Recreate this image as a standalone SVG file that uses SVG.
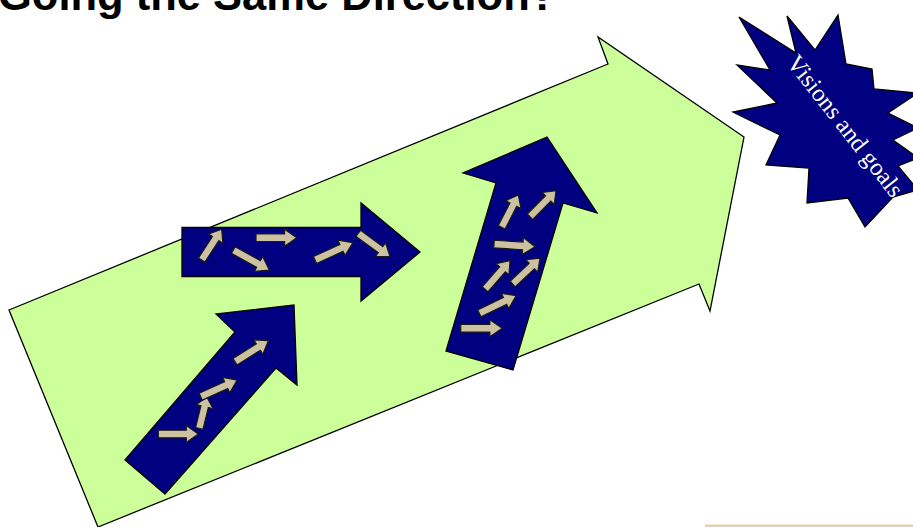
<svg xmlns="http://www.w3.org/2000/svg" xmlns:xlink="http://www.w3.org/1999/xlink" width="913" height="527" viewBox="0 0 913 527">
<style>
.title{font-family:"Liberation Sans",Arial,sans-serif;font-weight:bold;font-size:43.5px;fill:#000}
.green{fill:#CCFF99;stroke:#000;stroke-width:1.3;stroke-linejoin:miter}
.navy{fill:#000080;stroke:#000;stroke-width:1.3;stroke-linejoin:miter}
.small{fill:#CCC2A2;stroke:#1a1a1a;stroke-width:1.2;vector-effect:non-scaling-stroke}
.star{fill:#000080;stroke:#000;stroke-width:1.3}
.label{font-family:"Liberation Serif","Times New Roman",serif;font-size:24.5px;fill:#fff}
</style>
<defs>
<path id="sa" d="M0,-3.8 L28,-3.8 L28,-8.5 L40,0 L28,8.5 L28,3.8 L0,3.8 Z"/>
</defs>
<rect width="913" height="527" fill="#fff"/>
<g id="title"><text class="title" x="-2" y="10">Going the Same Direction?</text></g>
<g id="big-arrow">
<polygon class="green" points="9,310 608,64 598,37 744,137 710,311 699,284 98,527"/>
</g>
<g id="arrow-lower">
<polygon class="navy" points="125,460 235,332 216,314 294,305 297,385 276,368 165,494"/>
<g class="small">
<use xlink:href="#sa" transform="translate(158.3,434) rotate(0) scale(1,1)"/>
<use xlink:href="#sa" transform="translate(199.3,428.3) rotate(-76.1) scale(0.8,1)"/>
<use xlink:href="#sa" transform="translate(200.7,396.7) rotate(-24.5) scale(1,1)"/>
<use xlink:href="#sa" transform="translate(235,361.7) rotate(-32.2) scale(0.985,1)"/>
</g>
</g>
<g id="arrow-middle">
<polygon class="navy" points="182,227.5 361,227.5 361,203 420,252 361,301 361,276.5 182,276.5"/>
<g class="small">
<use xlink:href="#sa" transform="translate(201.7,260) rotate(-56.9) scale(0.915,1)"/>
<use xlink:href="#sa" transform="translate(233.3,250) rotate(29.1) scale(1.03,1)"/>
<use xlink:href="#sa" transform="translate(256,237.7) rotate(0) scale(1.02,1)"/>
<use xlink:href="#sa" transform="translate(315,260) rotate(-24.6) scale(1.04,1)"/>
<use xlink:href="#sa" transform="translate(358.3,233.3) rotate(36.4) scale(0.985,1)"/>
</g>
</g>
<g id="arrow-right">
<polygon class="navy" points="446,351 496,183 463,173 547,137 597,213 563,203 513,370"/>
<g class="small">
<use xlink:href="#sa" transform="translate(501.7,227.3) rotate(-62.8) scale(0.91,1)"/>
<use xlink:href="#sa" transform="translate(530,216.7) rotate(-45) scale(0.92,1)"/>
<use xlink:href="#sa" transform="translate(494,244) rotate(3.8) scale(1.03,1)"/>
<use xlink:href="#sa" transform="translate(485,289.3) rotate(-48.8) scale(0.95,1)"/>
<use xlink:href="#sa" transform="translate(512.7,284) rotate(-43.3) scale(0.94,1)"/>
<use xlink:href="#sa" transform="translate(479.3,313.3) rotate(-25.6) scale(1.02,1)"/>
<use xlink:href="#sa" transform="translate(460.7,328.3) rotate(0) scale(1.04,1)"/>
</g>
</g>
<g id="visions-star">
<polygon class="star" points="739,17 796,53 787,16 815,50 838,15 846,64 872,69 874,89 918,93 888,113 918,128 893,140 918,158 898,166 918,190 893,197 865,227 848,198 807,203 809,168 766,165 780,135 733,112 777,103 737,65 770,70"/>
<text class="label" transform="translate(839,131) rotate(52)" text-anchor="middle">Visions and goals</text>
</g>
<g id="footer-line"><rect x="705" y="524.5" width="208" height="2.5" fill="#DDD3AE"/></g>
</svg>
